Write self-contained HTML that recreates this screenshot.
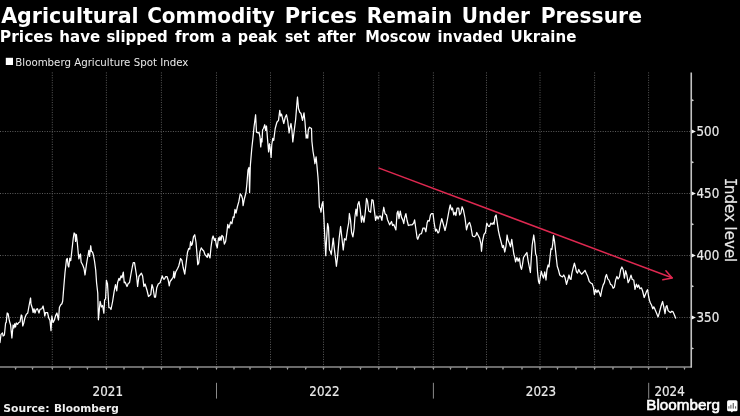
<!DOCTYPE html>
<html lang="en"><head><meta charset="utf-8"><title>Agricultural Commodity Prices Remain Under Pressure</title>
<style>html,body{margin:0;padding:0;background:#000;}body{width:740px;height:416px;overflow:hidden;}svg{display:block;will-change:transform;}.b{font-family:"DejaVu Sans","Liberation Sans",sans-serif;font-weight:bold;fill:#fff;}.c{font-family:"DejaVu Sans Condensed","DejaVu Sans","Liberation Sans",sans-serif;font-stretch:condensed;fill:#e9e9e9;stroke:#e9e9e9;stroke-width:0.2px;}.r{font-family:"DejaVu Sans","Liberation Sans",sans-serif;fill:#e9e9e9;}.l{font-family:"Liberation Sans",sans-serif;font-weight:normal;fill:#fff;stroke:#fff;stroke-width:0.55px;}</style></head><body>
<svg width="740" height="416" viewBox="0 0 740 416">
<rect width="740" height="416" fill="#000"/>
<text class="b" y="22.5" font-size="20.8"><tspan x="1.15" textLength="137.49" lengthAdjust="spacingAndGlyphs">Agricultural</tspan> <tspan x="147.20" textLength="127.61" lengthAdjust="spacingAndGlyphs">Commodity</tspan> <tspan x="284.71" textLength="72.24" lengthAdjust="spacingAndGlyphs">Prices</tspan> <tspan x="366.68" textLength="85.44" lengthAdjust="spacingAndGlyphs">Remain</tspan> <tspan x="461.70" textLength="68.22" lengthAdjust="spacingAndGlyphs">Under</tspan> <tspan x="540.67" textLength="101.31" lengthAdjust="spacingAndGlyphs">Pressure</tspan></text>
<text class="b" y="42" font-size="15.3"><tspan x="-0.15" textLength="53.24" lengthAdjust="spacingAndGlyphs">Prices</tspan> <tspan x="59.30" textLength="40.81" lengthAdjust="spacingAndGlyphs">have</tspan> <tspan x="106.45" textLength="61.26" lengthAdjust="spacingAndGlyphs">slipped</tspan> <tspan x="174.97" textLength="39.89" lengthAdjust="spacingAndGlyphs">from</tspan> <tspan x="221.19" textLength="10.24" lengthAdjust="spacingAndGlyphs">a</tspan> <tspan x="237.85" textLength="39.35" lengthAdjust="spacingAndGlyphs">peak</tspan> <tspan x="284.89" textLength="24.95" lengthAdjust="spacingAndGlyphs">set</tspan> <tspan x="317.14" textLength="38.45" lengthAdjust="spacingAndGlyphs">after</tspan> <tspan x="365.18" textLength="65.54" lengthAdjust="spacingAndGlyphs">Moscow</tspan> <tspan x="437.59" textLength="65.40" lengthAdjust="spacingAndGlyphs">invaded</tspan> <tspan x="510.55" textLength="65.78" lengthAdjust="spacingAndGlyphs">Ukraine</tspan></text>
<rect x="5.8" y="57.8" width="7.2" height="7.2" fill="#fff"/>
<text class="r" x="15.3" y="65.8" font-size="10.2" textLength="173" lengthAdjust="spacingAndGlyphs">Bloomberg Agriculture Spot Index</text>
<g stroke="#5a5a5a" stroke-width="1" stroke-dasharray="1 1.47" fill="none">
<line x1="52.3" y1="72.4" x2="52.3" y2="367.0"/>
<line x1="106.4" y1="72.4" x2="106.4" y2="367.0"/>
<line x1="161.4" y1="72.4" x2="161.4" y2="367.0"/>
<line x1="216.5" y1="72.4" x2="216.5" y2="367.0"/>
<line x1="270.5" y1="72.4" x2="270.5" y2="367.0"/>
<line x1="323.5" y1="72.4" x2="323.5" y2="367.0"/>
<line x1="378.8" y1="72.4" x2="378.8" y2="367.0"/>
<line x1="433.4" y1="72.4" x2="433.4" y2="367.0"/>
<line x1="486.5" y1="72.4" x2="486.5" y2="367.0"/>
<line x1="540.0" y1="72.4" x2="540.0" y2="367.0"/>
<line x1="594.6" y1="72.4" x2="594.6" y2="367.0"/>
<line x1="648.6" y1="72.4" x2="648.6" y2="367.0"/>
</g>
<g stroke="#5e5e5e" stroke-width="1" stroke-dasharray="1 1.47" fill="none">
<line x1="0" y1="131.5" x2="691.25" y2="131.5"/>
<line x1="0" y1="193.5" x2="691.25" y2="193.5"/>
<line x1="0" y1="255.5" x2="691.25" y2="255.5"/>
<line x1="0" y1="317.5" x2="691.25" y2="317.5"/>
</g>
<line x1="0" y1="367.0" x2="692.0" y2="367.0" stroke="#8e8e8e" stroke-width="1.6"/>
<g stroke="#9a9a9a" stroke-width="0.9">
<polygon points="14.5,367.5 16.7,367.5 15.6,370.2" fill="#a0a0a0" stroke="none"/>
<polygon points="31.4,367.5 33.6,367.5 32.5,370.2" fill="#a0a0a0" stroke="none"/>
<polygon points="51.199999999999996,367.5 53.4,367.5 52.3,370.2" fill="#a0a0a0" stroke="none"/>
<polygon points="68.7,367.5 70.89999999999999,367.5 69.8,370.2" fill="#a0a0a0" stroke="none"/>
<polygon points="86.30000000000001,367.5 88.5,367.5 87.4,370.2" fill="#a0a0a0" stroke="none"/>
<polygon points="105.30000000000001,367.5 107.5,367.5 106.4,370.2" fill="#a0a0a0" stroke="none"/>
<polygon points="122.9,367.5 125.1,367.5 124,370.2" fill="#a0a0a0" stroke="none"/>
<polygon points="141.9,367.5 144.1,367.5 143,370.2" fill="#a0a0a0" stroke="none"/>
<polygon points="160.3,367.5 162.5,367.5 161.4,370.2" fill="#a0a0a0" stroke="none"/>
<polygon points="178.9,367.5 181.1,367.5 180,370.2" fill="#a0a0a0" stroke="none"/>
<polygon points="196.4,367.5 198.6,367.5 197.5,370.2" fill="#a0a0a0" stroke="none"/>
<polygon points="215.4,367.5 217.6,367.5 216.5,370.2" fill="#a0a0a0" stroke="none"/>
<polygon points="232.9,367.5 235.1,367.5 234,370.2" fill="#a0a0a0" stroke="none"/>
<polygon points="248.9,367.5 251.1,367.5 250,370.2" fill="#a0a0a0" stroke="none"/>
<polygon points="269.4,367.5 271.6,367.5 270.5,370.2" fill="#a0a0a0" stroke="none"/>
<polygon points="286.4,367.5 288.6,367.5 287.5,370.2" fill="#a0a0a0" stroke="none"/>
<polygon points="304.65,367.5 306.85,367.5 305.75,370.2" fill="#a0a0a0" stroke="none"/>
<polygon points="322.4,367.5 324.6,367.5 323.5,370.2" fill="#a0a0a0" stroke="none"/>
<polygon points="339.4,367.5 341.6,367.5 340.5,370.2" fill="#a0a0a0" stroke="none"/>
<polygon points="359.4,367.5 361.6,367.5 360.5,370.2" fill="#a0a0a0" stroke="none"/>
<polygon points="377.7,367.5 379.90000000000003,367.5 378.8,370.2" fill="#a0a0a0" stroke="none"/>
<polygon points="395.65,367.5 397.85,367.5 396.75,370.2" fill="#a0a0a0" stroke="none"/>
<polygon points="413.4,367.5 415.6,367.5 414.5,370.2" fill="#a0a0a0" stroke="none"/>
<polygon points="432.29999999999995,367.5 434.5,367.5 433.4,370.2" fill="#a0a0a0" stroke="none"/>
<polygon points="449.4,367.5 451.6,367.5 450.5,370.2" fill="#a0a0a0" stroke="none"/>
<polygon points="465.65,367.5 467.85,367.5 466.75,370.2" fill="#a0a0a0" stroke="none"/>
<polygon points="485.4,367.5 487.6,367.5 486.5,370.2" fill="#a0a0a0" stroke="none"/>
<polygon points="501.9,367.5 504.1,367.5 503,370.2" fill="#a0a0a0" stroke="none"/>
<polygon points="520.9,367.5 523.1,367.5 522,370.2" fill="#a0a0a0" stroke="none"/>
<polygon points="538.9,367.5 541.1,367.5 540,370.2" fill="#a0a0a0" stroke="none"/>
<polygon points="556.4,367.5 558.6,367.5 557.5,370.2" fill="#a0a0a0" stroke="none"/>
<polygon points="574.9,367.5 577.1,367.5 576,370.2" fill="#a0a0a0" stroke="none"/>
<polygon points="593.5,367.5 595.7,367.5 594.6,370.2" fill="#a0a0a0" stroke="none"/>
<polygon points="611.9,367.5 614.1,367.5 613,370.2" fill="#a0a0a0" stroke="none"/>
<polygon points="629.9,367.5 632.1,367.5 631,370.2" fill="#a0a0a0" stroke="none"/>
<polygon points="647.5,367.5 649.7,367.5 648.6,370.2" fill="#a0a0a0" stroke="none"/>
<polygon points="665.65,367.5 667.85,367.5 666.75,370.2" fill="#a0a0a0" stroke="none"/>
<polygon points="683.4,367.5 685.6,367.5 684.5,370.2" fill="#a0a0a0" stroke="none"/>
<line x1="216.5" y1="382.8" x2="216.5" y2="398.6"/>
<line x1="433.4" y1="382.8" x2="433.4" y2="398.6"/>
<line x1="648.7" y1="382.8" x2="648.7" y2="398.6"/>
</g>
<line x1="691.25" y1="72.4" x2="691.25" y2="367.5" stroke="#c2c2c2" stroke-width="1.6"/>
<polygon points="691.75,99.0 694.15,100.2 691.75,101.4" fill="#d0d0d0"/>
<polygon points="691.75,161.10000000000002 694.15,162.3 691.75,163.5" fill="#d0d0d0"/>
<polygon points="691.75,223.10000000000002 694.15,224.3 691.75,225.5" fill="#d0d0d0"/>
<polygon points="691.75,285.1 694.15,286.3 691.75,287.5" fill="#d0d0d0"/>
<polygon points="691.75,347.2 694.15,348.4 691.75,349.59999999999997" fill="#d0d0d0"/>
<polygon points="691.75,129.6 695.85,131.5 691.75,133.4" fill="#f2f2f2"/>
<text class="c" x="696.5" y="135.50" font-size="14.2" textLength="22.7" lengthAdjust="spacingAndGlyphs">500</text>
<polygon points="691.75,191.6 695.85,193.5 691.75,195.4" fill="#f2f2f2"/>
<text class="c" x="696.5" y="197.50" font-size="14.2" textLength="22.7" lengthAdjust="spacingAndGlyphs">450</text>
<polygon points="691.75,253.6 695.85,255.5 691.75,257.4" fill="#f2f2f2"/>
<text class="c" x="696.5" y="259.50" font-size="14.2" textLength="22.7" lengthAdjust="spacingAndGlyphs">400</text>
<polygon points="691.75,315.6 695.85,317.5 691.75,319.4" fill="#f2f2f2"/>
<text class="c" x="696.5" y="321.50" font-size="14.2" textLength="22.7" lengthAdjust="spacingAndGlyphs">350</text>
<text class="c" x="92.6" y="395.5" font-size="14.2" textLength="30.4" lengthAdjust="spacingAndGlyphs">2021</text>
<text class="c" x="309.3" y="395.5" font-size="14.2" textLength="30.4" lengthAdjust="spacingAndGlyphs">2022</text>
<text class="c" x="525.8" y="395.5" font-size="14.2" textLength="30.4" lengthAdjust="spacingAndGlyphs">2023</text>
<text class="c" x="654.4" y="395.5" font-size="14.2" textLength="30.4" lengthAdjust="spacingAndGlyphs">2024</text>
<text class="c" transform="translate(724.8,0) rotate(90)" font-size="16.4"><tspan x="178.0" textLength="8.2" lengthAdjust="spacingAndGlyphs" style="font-family:'DejaVu Sans Mono','Liberation Mono',monospace;font-stretch:normal">I</tspan><tspan x="185.0" textLength="77.3" lengthAdjust="spacingAndGlyphs">ndex level</tspan></text>
<g stroke="#de2850" stroke-width="1.5" fill="none" stroke-linecap="round" stroke-linejoin="round">
<line x1="379.1" y1="168.1" x2="672.0" y2="277.8"/>
<polyline points="665.9,270.7 672.2,277.9 662.8,279.8"/>
</g>
<polyline points="0.00,342.50 1.00,334.40 2.50,333.00 3.10,336.00 4.40,335.00 5.60,323.00 6.20,322.50 7.20,313.00 8.10,313.70 9.40,321.00 10.60,325.00 11.90,338.00 13.10,325.00 14.00,328.00 14.75,323.75 15.60,327.00 16.25,323.00 17.50,324.40 18.75,322.50 20.00,322.00 21.25,315.00 21.90,315.60 22.75,326.00 23.75,323.00 25.00,317.50 26.25,314.40 27.75,313.00 29.00,306.00 30.25,299.50 30.60,298.00 31.00,304.00 32.25,308.00 33.10,312.50 34.00,308.75 35.00,313.00 36.25,309.40 37.50,308.75 39.00,313.00 40.00,309.40 41.90,308.75 43.10,306.00 44.40,313.00 44.75,316.00 45.60,312.50 47.50,312.50 48.75,318.00 50.00,320.60 51.00,330.60 51.90,316.00 53.10,322.50 54.40,320.00 55.60,315.60 56.90,313.00 58.50,320.00 59.40,307.50 60.60,305.00 61.90,303.75 62.70,301.00 63.75,287.50 65.00,272.50 66.50,259.40 67.30,258.50 68.10,265.60 68.80,267.00 69.75,258.25 70.75,260.75 72.00,249.50 73.25,238.25 74.10,233.00 75.00,233.90 75.60,241.40 76.40,234.50 77.25,242.00 78.25,253.25 78.90,258.90 79.75,255.00 80.50,254.00 81.10,262.00 82.70,265.00 84.00,268.50 85.00,275.00 85.70,270.00 86.50,264.00 87.25,259.50 88.10,255.00 88.85,250.30 89.60,256.40 90.75,245.75 91.40,251.40 92.50,252.00 93.40,255.00 94.50,261.00 95.70,270.00 96.60,283.00 97.75,293.00 98.40,319.80 100.10,301.40 101.50,307.00 102.60,305.50 103.85,313.20 104.60,300.00 105.60,298.80 106.40,280.25 107.50,284.00 108.90,307.60 110.10,307.75 111.00,309.50 112.60,301.50 114.25,290.90 115.50,284.60 116.75,290.90 117.60,282.75 118.90,278.40 119.75,280.25 121.00,275.90 122.00,277.75 123.30,272.10 124.25,282.75 125.10,282.10 127.00,286.50 128.25,283.40 129.50,282.75 131.00,274.00 132.30,267.00 133.25,262.60 134.50,262.60 135.50,269.00 136.60,276.00 137.60,286.50 138.90,276.50 141.40,273.20 142.60,275.90 143.90,286.50 145.10,284.00 147.00,290.25 148.50,296.50 150.75,294.60 152.00,284.60 153.00,287.75 154.50,297.10 155.50,297.10 156.75,287.75 158.25,284.00 160.10,282.75 162.25,275.90 163.50,279.00 164.50,279.00 165.75,276.50 167.00,276.50 168.25,280.25 169.25,285.90 170.10,281.50 172.00,279.00 173.20,277.00 173.90,271.30 174.45,278.00 175.70,272.00 177.60,268.50 178.75,266.00 180.60,258.50 181.90,260.40 183.10,267.25 184.75,274.10 186.25,262.25 187.50,252.25 188.75,248.50 189.75,249.10 190.60,241.60 191.50,245.40 192.25,244.10 193.50,236.60 194.75,234.75 196.00,242.25 196.90,252.90 197.75,264.75 198.75,262.90 200.00,251.60 201.25,247.90 202.50,249.75 203.75,251.00 205.00,254.75 206.25,256.00 207.25,257.25 208.10,253.50 209.00,255.40 210.00,257.90 211.00,247.25 212.25,238.50 213.10,236.00 214.40,240.40 215.25,238.50 216.25,244.75 217.25,247.90 218.50,237.90 219.40,240.40 220.00,236.60 221.00,240.40 221.90,235.40 223.10,236.60 224.40,244.10 225.60,241.60 226.90,232.25 227.75,224.40 229.00,228.10 230.60,221.90 231.90,223.75 233.10,216.90 234.00,217.50 235.00,209.40 236.00,213.10 237.50,206.25 238.75,201.90 240.25,193.75 241.50,195.60 242.50,198.75 243.10,205.60 244.40,198.75 246.00,192.50 246.90,183.75 248.00,170.00 249.00,167.50 249.60,192.50 250.30,166.00 251.75,148.75 253.00,137.50 254.00,127.25 255.60,114.75 256.50,132.25 258.10,132.90 259.00,132.25 260.00,137.00 260.75,146.90 261.50,138.75 262.00,141.90 262.60,129.75 263.50,128.50 264.75,124.75 265.60,130.40 266.50,126.00 267.60,140.00 268.60,151.90 269.50,143.75 270.25,148.75 271.10,157.50 271.75,145.00 272.75,138.30 273.70,140.50 274.50,134.00 275.20,128.50 276.90,122.25 278.50,120.40 279.75,110.40 280.60,116.00 281.50,114.10 283.75,123.50 285.25,117.25 286.50,114.75 287.75,121.00 289.10,133.00 289.80,128.50 291.00,123.50 291.90,129.75 292.80,141.90 294.00,132.25 295.60,119.75 296.90,103.50 297.50,97.00 298.50,108.50 299.75,112.25 301.00,113.50 302.50,120.40 304.00,112.90 305.00,122.25 306.20,138.10 307.00,135.00 307.75,138.10 308.30,130.00 309.40,127.25 311.50,128.50 311.90,141.25 313.00,151.25 314.25,158.75 314.90,163.75 316.10,156.90 317.00,166.25 318.00,177.50 318.50,184.75 319.40,207.25 320.25,208.50 321.00,212.25 321.90,204.75 322.90,201.60 323.75,214.75 324.75,236.25 325.75,255.60 326.60,238.75 327.60,223.50 328.50,227.50 329.50,250.00 330.40,251.25 331.25,254.40 332.25,246.25 333.25,238.10 334.10,246.90 335.40,257.50 336.40,266.25 337.50,257.50 339.10,238.75 340.60,226.50 342.00,238.75 343.25,250.00 344.50,238.75 346.00,240.00 347.50,229.40 348.75,222.50 349.40,213.50 350.50,219.75 351.60,232.50 352.90,236.90 354.10,228.75 355.00,216.00 356.00,209.10 356.90,216.00 357.75,204.75 359.00,201.60 360.25,209.75 361.50,222.25 362.50,216.00 364.00,222.25 365.25,212.25 366.50,198.50 367.50,201.00 368.75,211.00 370.60,212.25 371.90,199.75 373.10,200.40 374.40,211.00 375.60,220.40 376.90,216.00 378.10,219.10 379.40,216.00 380.60,216.00 381.90,220.40 382.75,213.50 383.75,207.25 385.00,213.70 386.50,215.00 387.50,219.75 388.40,221.75 389.60,224.90 391.50,221.50 392.60,225.50 393.75,224.50 395.90,229.90 397.10,213.00 398.00,211.10 399.00,218.60 400.25,211.10 401.50,217.40 402.75,219.90 403.75,223.60 404.60,218.00 405.90,213.60 407.10,220.50 408.40,225.50 410.25,224.90 412.10,224.90 413.75,223.00 414.60,219.90 415.90,229.25 417.10,238.00 417.75,239.25 419.60,234.25 421.50,233.60 423.00,228.00 424.60,228.00 425.90,231.75 427.10,223.00 428.00,220.50 429.25,221.10 430.50,214.90 431.50,213.60 433.00,213.60 434.00,221.75 435.50,231.10 436.50,229.25 438.00,233.00 439.00,231.75 440.50,223.60 441.75,218.60 443.00,223.00 445.00,230.50 446.50,224.25 448.00,216.10 449.25,209.25 450.25,204.90 451.50,209.90 452.50,208.00 453.75,214.90 455.00,212.40 455.90,215.50 457.10,208.00 458.75,208.00 459.60,214.90 460.90,213.00 462.10,206.75 463.40,209.90 465.00,218.00 466.50,229.90 467.90,224.50 469.60,222.40 470.90,226.75 472.50,236.00 474.30,236.80 475.90,235.60 476.75,232.50 478.00,235.00 479.60,238.10 480.90,243.75 481.50,251.25 482.50,241.25 484.00,234.40 485.50,232.50 486.75,223.10 488.40,226.25 489.60,226.25 490.90,223.10 492.10,224.40 493.40,222.50 494.00,224.40 495.00,216.90 496.10,215.00 497.10,221.90 498.40,230.60 499.60,236.25 501.25,242.50 502.50,247.50 503.40,245.50 504.80,252.00 506.00,246.00 507.10,235.00 508.00,240.00 509.25,243.10 510.50,246.90 511.75,239.40 512.75,246.50 513.75,253.75 514.75,257.50 515.60,261.90 516.90,257.50 518.10,261.25 519.40,258.10 520.60,266.90 521.50,269.40 522.50,264.40 523.50,257.50 524.75,255.60 526.00,253.75 526.90,252.50 528.10,260.60 529.40,267.50 530.40,272.50 531.25,258.75 532.20,245.00 533.75,235.00 534.80,243.00 535.60,253.75 536.60,256.25 537.50,271.25 538.50,281.25 539.40,283.75 540.25,277.50 541.25,271.25 542.50,275.60 543.50,278.10 544.75,271.90 546.00,280.00 546.90,270.00 548.10,265.00 549.00,266.90 550.00,257.50 551.00,248.75 551.90,249.40 552.75,243.75 553.50,235.60 554.50,241.00 556.00,255.00 557.25,266.25 558.50,270.00 559.75,275.00 561.25,276.25 562.50,276.90 563.75,275.00 565.00,277.50 566.50,284.40 567.75,280.00 569.00,275.00 570.00,278.75 571.00,279.40 571.90,273.10 573.10,268.10 574.40,263.10 575.25,266.25 576.50,271.90 577.50,273.10 578.75,269.40 580.00,272.20 581.60,274.20 583.00,272.80 585.00,270.30 586.25,273.20 587.60,276.00 589.20,281.30 590.75,283.00 592.30,283.90 593.50,287.60 594.40,294.50 595.60,289.50 596.90,292.60 598.10,290.10 599.40,292.60 600.60,296.40 601.90,289.50 603.10,285.10 604.40,282.60 605.60,276.40 606.50,274.50 607.75,278.90 609.00,280.10 610.60,284.50 611.90,285.10 613.10,288.25 614.40,287.00 615.60,280.10 616.90,276.40 618.10,278.90 619.40,277.00 620.60,270.10 621.90,267.00 623.10,269.50 624.40,278.25 625.60,270.75 626.90,275.10 628.10,282.60 629.40,280.10 631.00,275.10 632.25,279.50 633.75,280.00 635.00,289.40 636.40,284.20 637.60,287.30 638.60,285.00 639.90,288.80 641.40,287.80 642.60,291.00 644.20,297.50 645.40,294.40 646.70,291.00 647.60,289.70 648.60,296.50 649.50,300.50 650.40,303.00 651.50,305.00 652.75,308.75 653.75,306.90 655.00,309.40 656.50,313.10 658.10,316.90 659.40,312.50 661.00,306.25 662.60,301.50 663.75,306.90 665.00,313.75 666.00,306.90 666.90,305.60 668.10,310.60 669.40,311.90 670.60,312.50 671.90,311.25 673.10,311.90 674.40,315.00 675.60,318.10" fill="none" stroke="#fff" stroke-width="1.25" stroke-linejoin="round" stroke-linecap="round"/>
<text class="b" y="412.0" font-size="10.6" style="fill:#f0f0f0"><tspan x="3.35" textLength="46.12" lengthAdjust="spacingAndGlyphs">Source:</tspan> <tspan x="54.05" textLength="64.69" lengthAdjust="spacingAndGlyphs">Bloomberg</tspan></text>
<text class="l" x="646.3" y="410.2" font-size="13.8" textLength="73.6" lengthAdjust="spacingAndGlyphs">Bloomberg</text>
<path d="M728.6 400.2h7.4a1.5 1.5 0 0 1 1.5 1.5v8a1.5 1.5 0 0 1-1.5 1.5h-3.0l-1.1 1.2l-1.1-1.2h-2.2a1.5 1.5 0 0 1-1.5-1.5v-8a1.5 1.5 0 0 1 1.5-1.5z" fill="#fff"/>
<g fill="#555"><rect x="728.4" y="406.2" width="1" height="2.4"/><rect x="730.4" y="404.8" width="1" height="3.8"/><rect x="732.7" y="403" width="1.1" height="5.6"/><rect x="735.1" y="406.3" width="1" height="2.3"/></g>
</svg></body></html>
